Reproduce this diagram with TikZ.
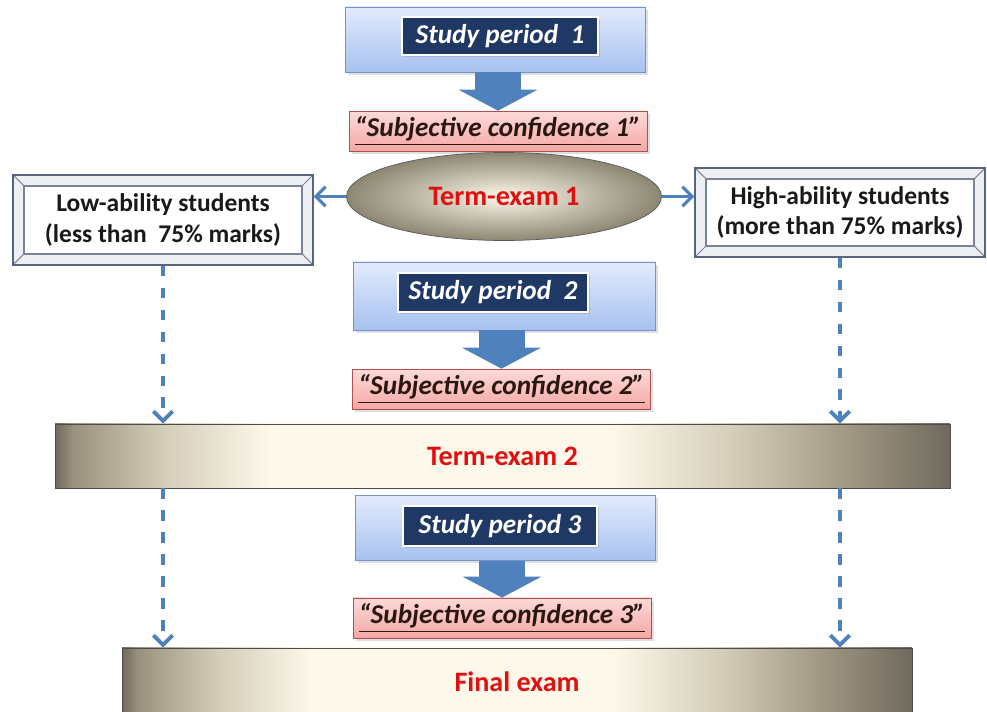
\documentclass[tikz,border=0pt]{standalone}
\usepackage{fontspec}
\setmainfont{Carlito}
\usetikzlibrary{arrows,arrows.meta,shapes,shadows,calc,positioning}

\definecolor{splight}{HTML}{E2EBFC}
\definecolor{spblue}{HTML}{A7C1EF}
\definecolor{spborder}{HTML}{7393CF}
\definecolor{spnavy}{HTML}{1F3864}
\definecolor{arrblue}{HTML}{4F81BD}
\definecolor{cflight}{HTML}{FCDAD8}
\definecolor{cfpink}{HTML}{F4A8A5}
\definecolor{cfborder}{HTML}{B0504C}
\definecolor{cftext}{HTML}{2A1810}
\definecolor{exdark}{HTML}{6F6A5E}
\definecolor{exmid}{HTML}{9A927E}
\definecolor{excream}{HTML}{D3CCB8}
\definecolor{exlight}{HTML}{FDF8EA}
\definecolor{exrim}{HTML}{8C8672}
\definecolor{examred}{HTML}{E01010}
\definecolor{bevelline}{HTML}{56657C}
\definecolor{bevelfill}{HTML}{EDEFF3}

\pgfdeclarehorizontalshading{examshade}{100bp}{color(0bp)=(exdark); color(25bp)=(exdark); color(26bp)=(exmid); color(31bp)=(excream); color(37bp)=(exlight); color(56bp)=(exlight); color(63bp)=(excream); color(70bp)=(exmid); color(75bp)=(exdark); color(100bp)=(exdark)}

\tikzset{
  spbox/.style={draw=spborder, top color=splight, bottom color=spblue,
    drop shadow={opacity=0.25, shadow xshift=1.5pt, shadow yshift=-1.5pt}},
  splabel/.style={fill=spnavy, draw=white, line width=1.2pt, text=white,
    font=\fontsize{15.5}{18}\selectfont\bfseries\itshape,
    drop shadow={opacity=0.3, shadow xshift=1pt, shadow yshift=-1pt}},
  cfbox/.style={draw=cfborder, top color=cflight, bottom color=cfpink, text=cftext,
    font=\fontsize{15.5}{18}\selectfont\bfseries\itshape,
    drop shadow={opacity=0.25, shadow xshift=1.5pt, shadow yshift=-1.5pt}},
  exambar/.style={draw=black!70, shading=examshade, text=examred,
    font=\fontsize{16}{19}\selectfont\bfseries},
  bevelbox/.style={draw=bevelline, line width=0.8pt, fill=bevelfill, align=center,
    font=\fontsize{14.5}{17.5}\selectfont\bfseries, text=black!90,
    path picture={
      \draw[bevelline!80, fill=white, line width=0.6pt]
        ([shift={(0.22,0.22)}]path picture bounding box.south west) rectangle
        ([shift={(-0.22,-0.22)}]path picture bounding box.north east);
      \draw[bevelline!80, line width=0.6pt]
        (path picture bounding box.south west) -- ++(0.22,0.22)
        (path picture bounding box.north west) -- ++(0.22,-0.22)
        (path picture bounding box.south east) -- ++(-0.22,0.22)
        (path picture bounding box.north east) -- ++(-0.22,-0.22);
    }},
  blockarrow/.style={draw=arrblue, line width=0.92cm,
    -{Triangle[width=1.56cm,length=0.42cm]}},
  dasharrow/.style={draw=arrblue, line width=2.2pt, dash pattern=on 6pt off 6.5pt,
    -{Straight Barb[length=5.5pt,width=11pt]}},
  sidearrow/.style={draw=arrblue, line width=1.8pt,
    -{Straight Barb[length=5.5pt,width=11pt]}}
}

\begin{document}
\begin{tikzpicture}
  \useasboundingbox (0,0) rectangle (19.74,-14.24);

  % study period 1
  \node[spbox, minimum width=6cm, minimum height=1.3cm] (sp1) at (9.9,-0.79) {};
  \node[splabel, minimum width=3.92cm, minimum height=0.76cm] (sp1lab) at (10.0,-0.72) {Study period~~1};
  \node[cfbox, minimum width=5.8cm, minimum height=0.76cm] (cf1) at (9.96,-2.62) {\underline{“Subjective confidence 1”}};
  \draw[blockarrow] (sp1.south -| cf1.north) -- (cf1.north);

  % term exam 1 and the two groups
  \node[ellipse, draw=black!65, shading=radial, inner color=exlight, outer color=exrim,
    minimum width=6.3cm, minimum height=1.76cm, text=examred,
    font=\fontsize{16}{19}\selectfont\bfseries] (te1) at (10.08,-3.93) {Term-exam 1};
  \node[bevelbox, minimum width=6.0cm, minimum height=1.8cm] (low) at (3.26,-4.4) {Low-ability students\\(less than~~75\% marks)};
  \node[bevelbox, minimum width=5.8cm, minimum height=1.78cm] (high) at (16.8,-4.25) {High-ability students\\(more than 75\% marks)};
  \draw[sidearrow] (te1.west) -- (te1.west -| low.east);
  \draw[sidearrow] (te1.east) -- (te1.east -| high.west);

  % study period 2
  \node[spbox, minimum width=6.04cm, minimum height=1.36cm] (sp2) at (10.08,-5.92) {};
  \node[splabel, minimum width=3.8cm, minimum height=0.78cm] (sp2lab) at (9.86,-5.85) {Study period~~2};
  \node[cfbox, minimum width=5.86cm, minimum height=0.76cm] (cf2) at (10.03,-7.78) {\underline{“Subjective confidence 2”}};
  \draw[blockarrow] (sp2.south -| cf2.north) -- (cf2.north);

  % term exam 2
  \node[exambar, minimum width=17.9cm, minimum height=1.28cm] (te2) at (10.05,-9.12) {Term-exam 2};

  % study period 3
  \node[spbox, minimum width=6.0cm, minimum height=1.3cm] (sp3) at (10.1,-10.56) {};
  \node[splabel, minimum width=3.88cm, minimum height=0.8cm] (sp3lab) at (10.0,-10.52) {Study period 3};
  \node[cfbox, minimum width=5.88cm, minimum height=0.8cm] (cf3) at (10.04,-12.36) {\underline{“Subjective confidence 3”}};
  \draw[blockarrow] (sp3.south -| cf3.north) -- (cf3.north);

  % final exam
  \node[exambar, minimum width=15.8cm, minimum height=1.36cm] (fin) at (10.34,-13.64) {Final exam};

  % dashed paths of the two groups
  \draw[dasharrow] (low.south) -- (low.south |- te2.north);
  \draw[dasharrow] (high.south) -- (high.south |- te2.north);
  \draw[dasharrow] (low.south |- te2.south) -- (low.south |- fin.north);
  \draw[dasharrow] (high.south |- te2.south) -- (high.south |- fin.north);
\end{tikzpicture}
\end{document}
